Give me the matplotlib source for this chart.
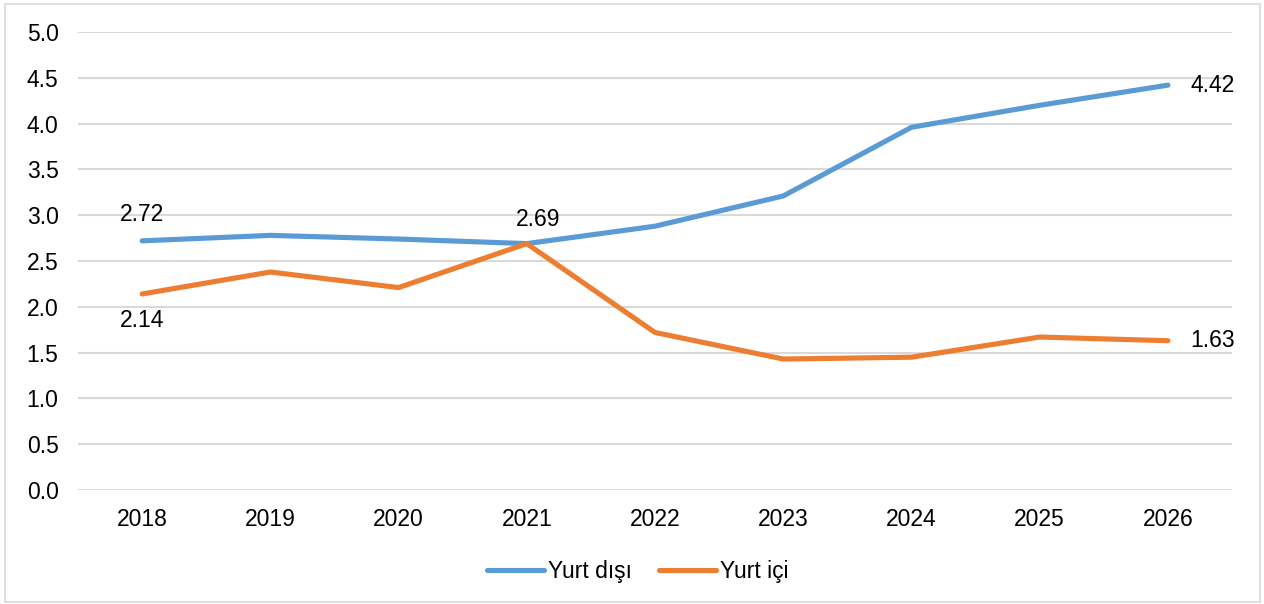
import matplotlib
matplotlib.use("Agg")
import matplotlib.pyplot as plt
from matplotlib.patches import Rectangle

# data
years = ["2018", "2019", "2020", "2021", "2022", "2023", "2024", "2025", "2026"]
yurt_disi = [2.72, 2.78, 2.74, 2.69, 2.88, 3.21, 3.96, 4.20, 4.42]
yurt_ici = [2.14, 2.38, 2.21, 2.69, 1.72, 1.43, 1.45, 1.67, 1.63]
y_ticks = [0.0, 0.5, 1.0, 1.5, 2.0, 2.5, 3.0, 3.5, 4.0, 4.5, 5.0]

plt.rcParams["font.family"] = ["Liberation Sans", "DejaVu Sans"]

fig = plt.figure(figsize=(12.64, 6.04), dpi=100)
ax = fig.add_axes([0.0617, 0.1887, 0.9130, 0.7583])

x = list(range(len(years)))

# lines
ax.plot(x, yurt_disi, color="#5B9BD5", lw=3.7, solid_capstyle="round",
        label="Yurt dışı", zorder=3)
ax.plot(x, yurt_ici, color="#ED7D31", lw=3.7, solid_capstyle="round",
        label="Yurt içi", zorder=3)

# data labels
fs = 16.5
ax.annotate(f"{yurt_disi[0]:.2f}", (x[0], yurt_disi[0]), xytext=(0, 11),
            textcoords="offset points", ha="center", va="bottom", fontsize=fs)
ax.annotate(f"{yurt_ici[0]:.2f}", (x[0], yurt_ici[0]), xytext=(0, -11),
            textcoords="offset points", ha="center", va="top", fontsize=fs)
ax.annotate(f"{yurt_disi[3]:.2f}", (x[3], yurt_disi[3]), xytext=(8, 9),
            textcoords="offset points", ha="center", va="bottom", fontsize=fs)
ax.annotate(f"{yurt_disi[-1]:.2f}", (x[-1], yurt_disi[-1]), xytext=(16, 0),
            textcoords="offset points", ha="left", va="center", fontsize=fs)
ax.annotate(f"{yurt_ici[-1]:.2f}", (x[-1], yurt_ici[-1]), xytext=(16, 0),
            textcoords="offset points", ha="left", va="center", fontsize=fs)

# axes
ax.set_xlim(-0.5, len(years) - 0.5)
ax.set_ylim(0, 5.0)
ax.set_xticks(x)
ax.set_xticklabels(years)
ax.set_yticks(y_ticks)
ax.set_yticklabels([f"{v:.1f}" for v in y_ticks])
ax.tick_params(axis="both", length=0, labelsize=fs)
ax.tick_params(axis="x", pad=13)
ax.tick_params(axis="y", pad=14)
for s in ax.spines.values():
    s.set_visible(False)
ax.yaxis.grid(True, color="#D9D9D9", lw=1.5)
ax.set_axisbelow(True)

# legend
ax.legend(loc="center", bbox_to_anchor=(0.485, -0.178), ncol=2, frameon=False,
          fontsize=fs, handlelength=2.5, handletextpad=0.15, columnspacing=1.2)

# outer chart border
fig.patches.append(Rectangle((0.004, 0.004), 0.993, 0.99, transform=fig.transFigure,
                             fill=False, edgecolor="#D9D9D9", lw=1.2))

plt.savefig("out.png", dpi=100)
